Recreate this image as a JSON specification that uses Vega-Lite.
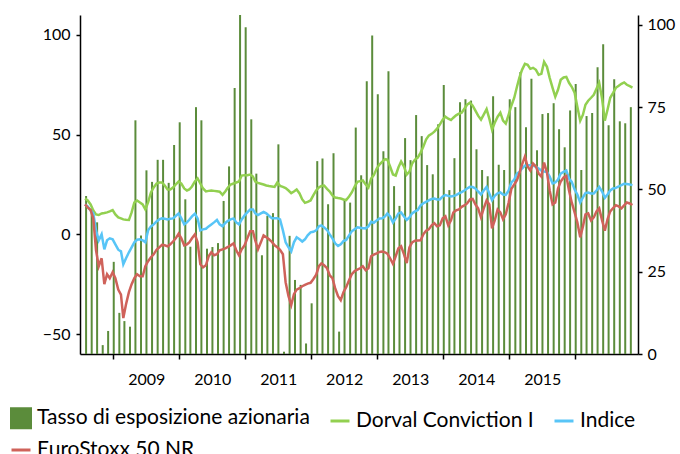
{
  "$schema": "https://vega.github.io/schema/vega-lite/v6.json",
  "width": 558,
  "height": 339,
  "autosize": {"type": "none"},
  "padding": {"left": 80, "top": 15, "right": 42, "bottom": 100},
  "background": "white",
  "config": {
    "view": {"stroke": null},
    "font": "Lato",
    "axis": {"grid": false, "domainColor": "#000000", "domainWidth": 1.5, "tickColor": "#000000", "tickWidth": 1.5, "tickSize": 4, "labelColor": "#000000", "labelFont": "Lato", "labelFontSize": 16, "title": null}
  },
  "datasets": {
    "bars": [
      {"d":"2008-08-07","v":48},{"d":"2008-09-07","v":44},{"d":"2008-10-07","v":40},{"d":"2008-11-07","v":2.7},{"d":"2008-12-07","v":7},
      {"d":"2009-01-07","v":28},{"d":"2009-02-07","v":12.5},{"d":"2009-03-07","v":10},{"d":"2009-04-07","v":8.3},{"d":"2009-05-07","v":71},{"d":"2009-06-07","v":36},{"d":"2009-07-07","v":55.8},{"d":"2009-08-07","v":52.3},{"d":"2009-09-07","v":59},{"d":"2009-10-07","v":59},{"d":"2009-11-07","v":52},{"d":"2009-12-07","v":63.5},
      {"d":"2010-01-07","v":70.4},{"d":"2010-02-07","v":47},{"d":"2010-03-07","v":32.6},{"d":"2010-04-07","v":75},{"d":"2010-05-07","v":71},{"d":"2010-06-07","v":32},{"d":"2010-07-07","v":32.5},{"d":"2010-08-07","v":33.7},{"d":"2010-09-07","v":46.5},{"d":"2010-10-07","v":57},{"d":"2010-11-07","v":80.8},{"d":"2010-12-07","v":106},
      {"d":"2011-01-07","v":99.3},{"d":"2011-02-07","v":71.3},{"d":"2011-03-07","v":54.8},{"d":"2011-04-07","v":30},{"d":"2011-05-07","v":42},{"d":"2011-06-07","v":42.8},{"d":"2011-07-07","v":63.7},{"d":"2011-08-07","v":0.7},{"d":"2011-09-07","v":35.9},{"d":"2011-10-07","v":22.5},{"d":"2011-11-07","v":21},{"d":"2011-12-07","v":3.2},
      {"d":"2012-01-07","v":15.4},{"d":"2012-02-07","v":58.6},{"d":"2012-03-07","v":59.4},{"d":"2012-04-07","v":45.5},{"d":"2012-05-07","v":61},{"d":"2012-06-07","v":6.8},{"d":"2012-07-07","v":47},{"d":"2012-08-07","v":46},{"d":"2012-09-07","v":68.8},{"d":"2012-10-07","v":54.3},{"d":"2012-11-07","v":82.9},{"d":"2012-12-07","v":96.8},
      {"d":"2013-01-07","v":78.9},{"d":"2013-02-07","v":61.6},{"d":"2013-03-07","v":85.9},{"d":"2013-04-07","v":51},{"d":"2013-05-07","v":45},{"d":"2013-06-07","v":65.6},{"d":"2013-07-07","v":58.9},{"d":"2013-08-07","v":72.6},{"d":"2013-09-07","v":66.2},{"d":"2013-10-07","v":57.4},{"d":"2013-11-07","v":54.6},{"d":"2013-12-07","v":69.8},
      {"d":"2014-01-07","v":81.7},{"d":"2014-02-07","v":49.8},{"d":"2014-03-07","v":59.5},{"d":"2014-04-07","v":76.5},{"d":"2014-05-07","v":77.4},{"d":"2014-06-07","v":77},{"d":"2014-07-07","v":62.2},{"d":"2014-08-07","v":55.9},{"d":"2014-09-07","v":54},{"d":"2014-10-07","v":78.3},{"d":"2014-11-07","v":57.5},{"d":"2014-12-07","v":55.9},
      {"d":"2015-01-07","v":77.4},{"d":"2015-02-07","v":75},{"d":"2015-03-07","v":85.7},{"d":"2015-04-07","v":68.9},{"d":"2015-05-07","v":83.6},{"d":"2015-06-07","v":61.9},{"d":"2015-07-07","v":72.9},{"d":"2015-08-07","v":73.2},{"d":"2015-09-07","v":76.2},{"d":"2015-10-07","v":68.3},{"d":"2015-11-07","v":62.8},{"d":"2015-12-07","v":74},
      {"d":"2016-01-07","v":82},{"d":"2016-02-07","v":55.9},{"d":"2016-03-07","v":72.3},{"d":"2016-04-07","v":73.2},{"d":"2016-05-07","v":87.1},{"d":"2016-06-07","v":94.1},{"d":"2016-07-07","v":69.5},{"d":"2016-08-07","v":83.5},{"d":"2016-09-07","v":70.7},{"d":"2016-10-07","v":70.1},{"d":"2016-11-07","v":75}
    ],
    "lines": [
      {"d":"2008-08-01","g":18,"b":15,"r":15},{"d":"2008-08-16","g":17,"b":14,"r":13.5},{"d":"2008-09-01","g":15,"b":12,"r":12.2},{"d":"2008-09-16","g":12,"b":10.6,"r":8},{"d":"2008-10-01","g":10,"b":2,"r":-8},{"d":"2008-10-16","g":9.7,"b":-3,"r":-16},{"d":"2008-11-01","g":10.5,"b":0,"r":-12},{"d":"2008-11-16","g":10.7,"b":-7.5,"r":-25},{"d":"2008-12-01","g":11,"b":-3,"r":-20},{"d":"2008-12-16","g":11.5,"b":-2,"r":-22},
      {"d":"2009-01-01","g":12.2,"b":-2.5,"r":-19},{"d":"2009-01-16","g":10,"b":-5,"r":-22},{"d":"2009-02-01","g":8.5,"b":-7.7,"r":-27.7},{"d":"2009-02-16","g":8,"b":-8.5,"r":-30.2},{"d":"2009-03-01","g":7.5,"b":-15,"r":-42},{"d":"2009-03-16","g":7.3,"b":-12,"r":-35},{"d":"2009-04-01","g":7.2,"b":-9,"r":-29},{"d":"2009-04-16","g":11,"b":-6.5,"r":-25},{"d":"2009-05-01","g":16,"b":-4,"r":-22},{"d":"2009-05-16","g":17,"b":-2.7,"r":-20},{"d":"2009-06-01","g":16,"b":-2.5,"r":-21},{"d":"2009-06-16","g":15,"b":-3,"r":-21},
      {"d":"2009-07-01","g":12.5,"b":-4,"r":-16},{"d":"2009-07-16","g":16,"b":2,"r":-13.5},{"d":"2009-08-01","g":21,"b":4,"r":-11.5},{"d":"2009-08-16","g":23.5,"b":5,"r":-10},{"d":"2009-09-01","g":25.5,"b":6.5,"r":-7.7},{"d":"2009-09-16","g":26,"b":7.5,"r":-6.5},{"d":"2009-10-01","g":26,"b":8,"r":-5.3},{"d":"2009-10-16","g":24.5,"b":7.8,"r":-5.5},{"d":"2009-11-01","g":22.5,"b":7.5,"r":-6},{"d":"2009-11-16","g":22.5,"b":7.8,"r":-5},{"d":"2009-12-01","g":23.5,"b":8,"r":-3.6},{"d":"2009-12-16","g":25,"b":9.2,"r":-2},
      {"d":"2010-01-01","g":26.5,"b":10.5,"r":0.3},{"d":"2010-01-16","g":25.5,"b":8,"r":-2},{"d":"2010-02-01","g":23,"b":5,"r":-5.5},{"d":"2010-02-16","g":22,"b":6,"r":-5},{"d":"2010-03-01","g":22.5,"b":7.3,"r":-4},{"d":"2010-03-16","g":24,"b":9,"r":-2},{"d":"2010-04-01","g":26.5,"b":10.3,"r":0},{"d":"2010-04-16","g":28,"b":8,"r":-4},{"d":"2010-05-01","g":25.5,"b":2,"r":-15},{"d":"2010-05-16","g":23,"b":2.5,"r":-16.5},{"d":"2010-06-01","g":21.5,"b":2.8,"r":-15.5},{"d":"2010-06-16","g":21.8,"b":4,"r":-11},
      {"d":"2010-07-01","g":22,"b":5,"r":-9},{"d":"2010-07-16","g":21.8,"b":6,"r":-10.5},{"d":"2010-08-01","g":21.6,"b":7.2,"r":-10},{"d":"2010-08-16","g":21.4,"b":5,"r":-8},{"d":"2010-09-01","g":19.8,"b":4,"r":-7.5},{"d":"2010-09-16","g":21.5,"b":5.7,"r":-7},{"d":"2010-10-01","g":23.5,"b":6.8,"r":-6.3},{"d":"2010-10-16","g":25,"b":7.5,"r":-5.5},{"d":"2010-11-01","g":25.5,"b":8,"r":-4.5},{"d":"2010-11-16","g":26,"b":6,"r":-8},{"d":"2010-12-01","g":26.5,"b":5,"r":-10.5},{"d":"2010-12-16","g":29.5,"b":7.5,"r":-7.5},
      {"d":"2011-01-01","g":29.7,"b":9.5,"r":-5.5},{"d":"2011-01-16","g":29.7,"b":11,"r":-2},{"d":"2011-02-01","g":30,"b":12.5,"r":1.5},{"d":"2011-02-16","g":29,"b":12.5,"r":1.5},{"d":"2011-03-01","g":26.5,"b":10.5,"r":-3},{"d":"2011-03-16","g":25.8,"b":9.7,"r":-7.5},{"d":"2011-04-01","g":25.4,"b":10.5,"r":-4},{"d":"2011-04-16","g":25,"b":11.2,"r":-0.5},{"d":"2011-05-01","g":24.5,"b":10.5,"r":-1.5},{"d":"2011-05-16","g":24.2,"b":9.3,"r":-2.5},{"d":"2011-06-01","g":24,"b":8.1,"r":-3.8},{"d":"2011-06-16","g":23.8,"b":8.1,"r":-5.5},
      {"d":"2011-07-01","g":26,"b":8.1,"r":-6.5},{"d":"2011-07-16","g":24.3,"b":7.5,"r":-7.8},{"d":"2011-08-01","g":23.8,"b":2,"r":-10},{"d":"2011-08-16","g":23.2,"b":-4,"r":-24},{"d":"2011-09-01","g":22,"b":-6.5,"r":-31},{"d":"2011-09-16","g":20.7,"b":-8.5,"r":-35.5},{"d":"2011-10-01","g":21.5,"b":-4,"r":-30},{"d":"2011-10-16","g":22.5,"b":-1.5,"r":-27.7},{"d":"2011-11-01","g":20.5,"b":-2.5,"r":-27},{"d":"2011-11-16","g":17.5,"b":-3.6,"r":-26},{"d":"2011-12-01","g":15.8,"b":-2.5,"r":-25.3},{"d":"2011-12-16","g":16.3,"b":-0.5,"r":-24.7},
      {"d":"2012-01-01","g":17,"b":1,"r":-24.3},{"d":"2012-01-16","g":19.5,"b":1.3,"r":-22.5},{"d":"2012-02-01","g":22,"b":2,"r":-20.2},{"d":"2012-02-16","g":23.5,"b":4,"r":-16},{"d":"2012-03-01","g":24.3,"b":4.5,"r":-14.6},{"d":"2012-03-16","g":24.5,"b":3.5,"r":-15.5},{"d":"2012-04-01","g":22.8,"b":2.2,"r":-17},{"d":"2012-04-16","g":21.5,"b":0,"r":-20.5},{"d":"2012-05-01","g":19.5,"b":-2,"r":-22},{"d":"2012-05-16","g":18.5,"b":-4.5,"r":-27},{"d":"2012-06-01","g":18.2,"b":-5.8,"r":-31},{"d":"2012-06-16","g":18,"b":-5,"r":-33},
      {"d":"2012-07-01","g":17.5,"b":-3.4,"r":-29},{"d":"2012-07-16","g":17.2,"b":-2.8,"r":-26.5},{"d":"2012-08-01","g":19,"b":-0.5,"r":-23},{"d":"2012-08-16","g":21,"b":1.5,"r":-20},{"d":"2012-09-01","g":24,"b":2.6,"r":-18.4},{"d":"2012-09-16","g":26.3,"b":3.5,"r":-17.7},{"d":"2012-10-01","g":26.7,"b":3.3,"r":-17},{"d":"2012-10-16","g":27,"b":3.1,"r":-16},{"d":"2012-11-01","g":25,"b":3,"r":-18},{"d":"2012-11-16","g":23.5,"b":4,"r":-17},{"d":"2012-12-01","g":28,"b":6.3,"r":-11},{"d":"2012-12-16","g":29.7,"b":5.8,"r":-10.2},
      {"d":"2013-01-01","g":33,"b":7,"r":-9.5},{"d":"2013-01-16","g":35,"b":8,"r":-8.8},{"d":"2013-02-01","g":36.5,"b":8.1,"r":-8.6},{"d":"2013-02-16","g":37.7,"b":9,"r":-9},{"d":"2013-03-01","g":37.5,"b":10.5,"r":-9.7},{"d":"2013-03-16","g":34,"b":9,"r":-12},{"d":"2013-04-01","g":30,"b":6,"r":-14.8},{"d":"2013-04-16","g":29.5,"b":8,"r":-11},{"d":"2013-05-01","g":33.5,"b":10.5,"r":-7},{"d":"2013-05-16","g":36.5,"b":11,"r":-6},{"d":"2013-06-01","g":34,"b":9,"r":-10},{"d":"2013-06-16","g":30,"b":7.2,"r":-14.4},
      {"d":"2013-07-01","g":31.5,"b":8.5,"r":-6.5},{"d":"2013-07-16","g":35.5,"b":10.5,"r":-4},{"d":"2013-08-01","g":37.5,"b":11.5,"r":-3.2},{"d":"2013-08-16","g":38.5,"b":12.2,"r":-3.1},{"d":"2013-09-01","g":41,"b":14.5,"r":-3},{"d":"2013-09-16","g":44,"b":15.6,"r":0},{"d":"2013-10-01","g":47.5,"b":16.3,"r":1.8},{"d":"2013-10-16","g":49.5,"b":17,"r":2.5},{"d":"2013-11-01","g":50.4,"b":17.7,"r":4.5},{"d":"2013-11-16","g":51.5,"b":18,"r":5.6},{"d":"2013-12-01","g":53,"b":17.5,"r":4},{"d":"2013-12-16","g":55,"b":17.5,"r":4.5},
      {"d":"2014-01-01","g":57.5,"b":19,"r":8},{"d":"2014-01-16","g":59,"b":19.7,"r":9},{"d":"2014-02-01","g":58,"b":19.3,"r":4.5},{"d":"2014-02-16","g":57.3,"b":19,"r":7},{"d":"2014-03-01","g":58.5,"b":19.2,"r":11},{"d":"2014-03-16","g":59.7,"b":19.7,"r":12},{"d":"2014-04-01","g":60.5,"b":20.5,"r":12.5},{"d":"2014-04-16","g":61,"b":21.2,"r":13.8},{"d":"2014-05-01","g":63,"b":22,"r":14.5},{"d":"2014-05-16","g":65,"b":23,"r":15.5},{"d":"2014-06-01","g":66,"b":23.8,"r":17.5},{"d":"2014-06-16","g":64.5,"b":23.7,"r":17.8},
      {"d":"2014-07-01","g":62,"b":23,"r":15},{"d":"2014-07-16","g":59.5,"b":21.5,"r":13},{"d":"2014-08-01","g":57.5,"b":20,"r":8.5},{"d":"2014-08-16","g":60,"b":22,"r":13},{"d":"2014-09-01","g":62.8,"b":23.8,"r":17},{"d":"2014-09-16","g":58,"b":20.5,"r":15},{"d":"2014-10-01","g":52.5,"b":17.2,"r":3},{"d":"2014-10-16","g":56,"b":19.3,"r":7},{"d":"2014-11-01","g":59,"b":20.6,"r":12.5},{"d":"2014-11-16","g":61,"b":21,"r":11},{"d":"2014-12-01","g":57,"b":20,"r":7.5},{"d":"2014-12-16","g":55.5,"b":19.8,"r":10},
      {"d":"2015-01-01","g":60,"b":22,"r":16},{"d":"2015-01-16","g":64.5,"b":26,"r":22.8},{"d":"2015-02-01","g":68.5,"b":27.5,"r":25},{"d":"2015-02-16","g":74,"b":30.5,"r":27.2},{"d":"2015-03-01","g":78.5,"b":31.3,"r":30.5},{"d":"2015-03-16","g":82.5,"b":33,"r":35},{"d":"2015-04-01","g":85.5,"b":34.5,"r":39},{"d":"2015-04-16","g":85,"b":34.7,"r":34},{"d":"2015-05-01","g":83,"b":34.7,"r":32},{"d":"2015-05-16","g":83.5,"b":34.5,"r":35.5},{"d":"2015-06-01","g":82.5,"b":33.8,"r":34},{"d":"2015-06-16","g":80,"b":33,"r":30.5},
      {"d":"2015-07-01","g":80.5,"b":32,"r":29},{"d":"2015-07-16","g":86.5,"b":31.5,"r":36},{"d":"2015-08-01","g":84,"b":31.3,"r":31},{"d":"2015-08-16","g":78.5,"b":29,"r":22},{"d":"2015-09-01","g":73.5,"b":25.5,"r":15},{"d":"2015-09-16","g":69,"b":26,"r":16},{"d":"2015-10-01","g":72.5,"b":27.5,"r":23},{"d":"2015-10-16","g":77.5,"b":30.5,"r":26.5},{"d":"2015-11-01","g":78.7,"b":31.3,"r":28.5},{"d":"2015-11-16","g":79,"b":32,"r":29.3},{"d":"2015-12-01","g":76,"b":28,"r":22},{"d":"2015-12-16","g":74,"b":26.3,"r":16},
      {"d":"2016-01-01","g":71,"b":22.5,"r":11},{"d":"2016-01-16","g":64,"b":20,"r":6},{"d":"2016-02-01","g":57,"b":16,"r":-1.5},{"d":"2016-02-16","g":60,"b":18.5,"r":4},{"d":"2016-03-01","g":65,"b":20.7,"r":10},{"d":"2016-03-16","g":67,"b":21,"r":10.5},{"d":"2016-04-01","g":68.5,"b":20.5,"r":7},{"d":"2016-04-16","g":70,"b":20.5,"r":8.5},{"d":"2016-05-01","g":73,"b":22,"r":11.5},{"d":"2016-05-16","g":76,"b":23.8,"r":13},{"d":"2016-06-01","g":68,"b":21.5,"r":7},{"d":"2016-06-16","g":57,"b":18.3,"r":1.8},
      {"d":"2016-07-01","g":62.5,"b":20,"r":7.5},{"d":"2016-07-16","g":68.5,"b":22,"r":11.5},{"d":"2016-08-01","g":71,"b":23,"r":13.2},{"d":"2016-08-16","g":73.5,"b":23.3,"r":14.6},{"d":"2016-09-01","g":74.5,"b":24,"r":14},{"d":"2016-09-16","g":75.5,"b":24.7,"r":13},{"d":"2016-10-01","g":76.2,"b":25.4,"r":14.5},{"d":"2016-10-16","g":75,"b":25.3,"r":16},{"d":"2016-11-01","g":74.3,"b":25,"r":15.5},{"d":"2016-11-16","g":73.6,"b":24.7,"r":14.7}
    ]
  },
  "layer": [
    {
      "data": {"name": "bars"},
      "mark": {"type": "bar", "width": 2, "clip": true},
      "encoding": {
        "x": {"field": "d", "type": "temporal",
              "scale": {"domain": [{"year": 2008, "month": 8, "date": 1}, {"year": 2016, "month": 11, "date": 19}]},
              "axis": {"values": [{"year": 2009, "month": 1, "date": 1}, {"year": 2010, "month": 1, "date": 1}, {"year": 2011, "month": 1, "date": 1}, {"year": 2012, "month": 1, "date": 1}, {"year": 2013, "month": 1, "date": 1}, {"year": 2014, "month": 1, "date": 1}, {"year": 2015, "month": 1, "date": 1}, {"year": 2016, "month": 1, "date": 1}],
                       "format": "%Y", "labelExpr": "year(datum.value) < 2016 ? timeFormat(datum.value, '%Y') : ''",
                       "labelOffset": 33.6, "labelPadding": 12, "tickSize": 5, "labelFlush": false, "labelOverlap": false}},
        "y": {"field": "v", "type": "quantitative",
              "scale": {"domain": [0, 103], "nice": false, "zero": true},
              "axis": {"orient": "right", "values": [0, 25, 50, 75, 100], "labelPadding": 5}},
        "color": {"datum": "Tasso di esposizione azionaria", "type": "nominal",
                  "scale": {"domain": ["Tasso di esposizione azionaria", "Dorval Conviction I", "Indice", "EuroStoxx 50 NR"],
                            "range": ["#5b8c3b", "#92d050", "#58c5f7", "#cf625a"]},
                  "legend": {"title": null, "orient": "none", "legendX": -70, "legendY": 392, "direction": "horizontal", "columns": 3,
                             "labelFont": "Lato", "labelFontSize": 21, "labelColor": "#000000", "labelLimit": 400,
                             "symbolSize": 361, "symbolStrokeWidth": 3, "labelOffset": 5, "columnPadding": 14, "rowPadding": 5, "padding": 0,
                             "encode": {"symbols": {"update": {
                               "shape": {"signal": "datum.value === 'Tasso di esposizione azionaria' ? 'square' : 'stroke'"},
                               "fill": {"signal": "datum.value === 'Tasso di esposizione azionaria' ? '#5b8c3b' : 'transparent'"},
                               "stroke": {"signal": "datum.value === 'Tasso di esposizione azionaria' ? 'transparent' : datum.value === 'Dorval Conviction I' ? '#92d050' : datum.value === 'Indice' ? '#58c5f7' : '#cf625a'"},
                               "strokeWidth": {"value": 3},
                               "opacity": {"value": 1}
                             }}}}}
      }
    },
    {
      "data": {"name": "lines"},
      "layer": [
        {"mark": {"type": "line", "strokeWidth": 2.5, "interpolate": "linear"},
         "encoding": {"x": {"field": "d", "type": "temporal"},
                      "y": {"field": "g", "type": "quantitative", "scale": {"domain": [-60, 110], "nice": false, "zero": false},
                            "axis": {"orient": "left", "values": [-50, 0, 50, 100], "labelPadding": 6}},
                      "color": {"datum": "Dorval Conviction I", "type": "nominal"}}},
        {"mark": {"type": "line", "strokeWidth": 2.5},
         "encoding": {"x": {"field": "d", "type": "temporal"},
                      "y": {"field": "b", "type": "quantitative"},
                      "color": {"datum": "Indice", "type": "nominal"}}},
        {"mark": {"type": "line", "strokeWidth": 2.5},
         "encoding": {"x": {"field": "d", "type": "temporal"},
                      "y": {"field": "r", "type": "quantitative"},
                      "color": {"datum": "EuroStoxx 50 NR", "type": "nominal"}}}
      ]
    }
  ],
  "resolve": {"scale": {"y": "independent"}, "axis": {"y": "independent"}}
}
